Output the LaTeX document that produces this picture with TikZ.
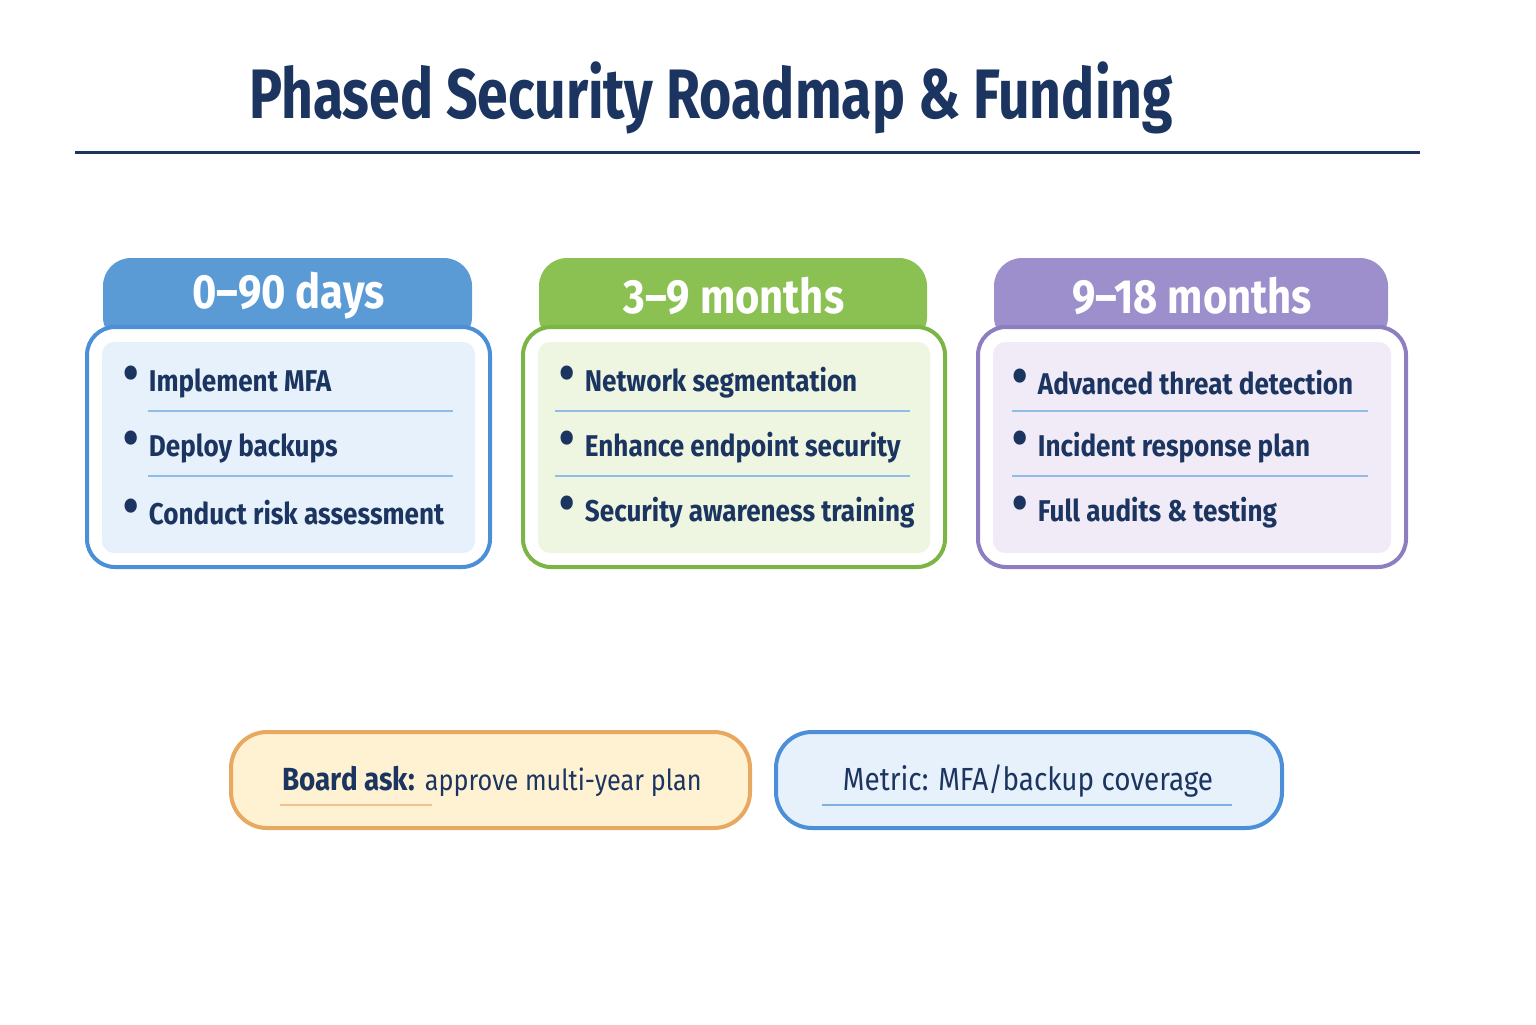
\documentclass[tikz,border=0pt]{standalone}
\usepackage{fontspec}
\setmainfont{Fira Sans}
\newfontfamily\condf{Fira Sans}[FakeStretch=0.87]
\newfontfamily\titlef{Fira Sans}[FakeStretch=0.79]
\begin{document}
\begin{tikzpicture}[x=0.5pt,y=-0.5pt]
\definecolor{navy}{HTML}{1B3560}
\definecolor{bt}{HTML}{5B9BD5}\definecolor{bb}{HTML}{4A8FD8}\definecolor{bf}{HTML}{E7F1FC}
\definecolor{gt}{HTML}{8BC152}\definecolor{gb}{HTML}{7BB545}\definecolor{gf}{HTML}{EEF6E1}
\definecolor{pt}{HTML}{9D8FCB}\definecolor{pb}{HTML}{8F7DC2}\definecolor{pf}{HTML}{F1EBF8}
\definecolor{ob}{HTML}{E8A860}\definecolor{of}{HTML}{FFF2D2}
\tikzset{item/.style={anchor=west,text=navy,font=\condf\fontsize{15}{18}\selectfont\bfseries},
 tab/.style={text=white,font=\condf\fontsize{24}{28}\selectfont\bfseries}}
\newcommand\bul{\raisebox{0.1ex}{\scalebox{1.7}{\textbullet}}\hspace{0.35em}}
\useasboundingbox (0,0) rectangle (1536,1024);
\node[text=navy,font=\titlef\fontsize{35}{42}\selectfont\bfseries] (title) at (711,98) {Phased Security Roadmap \& Funding};
\draw[navy,line width=1.5pt] (75,152) coordinate (l1) -- (1420,152) coordinate (l2);
\newcommand\phase[7]{%
 \fill[#5,rounded corners=14] (#1+16,258) rectangle (#2-18,345);
 \draw[#6,line width=2pt,fill=white,rounded corners=14] (#1,327) rectangle (#2,567);
 \fill[#7,rounded corners=6] (#1+15,342) rectangle (#2-15,553);
 \node[tab] (t#4) at ({(#1+#2)/2},296) {#3};
}
\phase{87}{490}{0–90 days}{a}{bt}{bb}{bf}
\phase{523}{945}{3–9 months}{b}{gt}{gb}{gf}
\phase{978}{1406}{9–18 months}{c}{pt}{pb}{pf}
\newcommand\items[5]{%
 \node[item] (#1x1) at (#2,382) {\bul #3};
 \node[item] (#1x2) at (#2,447) {\bul #4};
 \node[item] (#1x3) at (#2,512) {\bul #5};
}
\items{a}{116}{Implement MFA}{Deploy backups}{Conduct risk assessment}
\items{b}{552}{Network segmentation}{Enhance endpoint security}{Security awareness training}
\items{c}{1005}{Advanced threat detection}{Incident response plan}{Full audits \& testing}
\foreach \a/\b in {148/453,555/910,1012/1368}{
 \draw[bb!60,line width=0.6pt] (\a,411) -- (\b,411);
 \draw[bb!60,line width=0.6pt] (\a,476) -- (\b,476);}
\draw[ob,line width=2pt,fill=of,rounded corners=18] (231,732) rectangle (750,828);
\node[text=navy,font=\condf\fontsize{16}{18}\selectfont] (ask) at (492,781) {\textbf{Board ask:} \fontsize{14.5}{18}\selectfont approve multi-year plan};
\draw[ob!70,line width=0.6pt] (280,805) -- (432,805);
\draw[bb,line width=2pt,fill=bf,rounded corners=18] (776,732) rectangle (1282,828);
\node[text=navy,font=\condf\fontsize{16}{18}\selectfont] (met) at (1028,781) {Metric: MFA/backup coverage};
\draw[bb!70,line width=0.6pt] (822,805) -- (1232,805);
\end{tikzpicture}
\end{document}
